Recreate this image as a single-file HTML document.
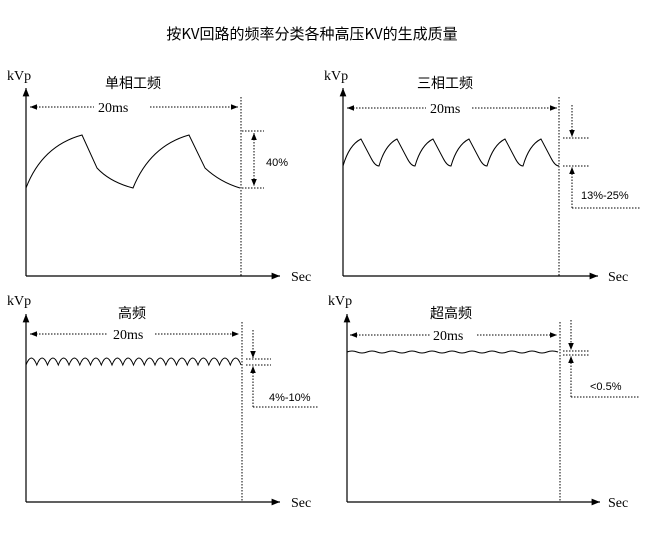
<!DOCTYPE html>
<html><head><meta charset="utf-8"><style>
html,body{margin:0;padding:0;background:#fff;}
svg{display:block;}
.s{font-family:"Liberation Serif",serif;font-size:14px;fill:#000;}
.c{font-family:"Liberation Sans","Noto Sans CJK SC",sans-serif;font-size:14px;fill:#000;}
.p{font-family:"Liberation Sans",sans-serif;font-size:11px;fill:#000;}
</style></head><body>
<svg id="g" width="655" height="542" viewBox="0 0 655 542" xmlns="http://www.w3.org/2000/svg">
<defs>
<marker id="a" viewBox="0 0 10 10" refX="10" refY="5" markerWidth="7" markerHeight="7" orient="auto-start-reverse"><path d="M0,1 L10,5 L0,9 z" fill="#000"/></marker>
</defs>
<text x="312" y="39" text-anchor="middle" style="font-family:'Noto Sans CJK SC',sans-serif;font-size:15px">按KV回路的频率分类各种高压KV的生成质量</text>
<g stroke="#000" fill="none" stroke-width="1.2">
<!-- panel1 -->
<line x1="26" y1="276" x2="26" y2="88" marker-end="url(#a)"/>
<line x1="26" y1="276" x2="280" y2="276" marker-end="url(#a)"/>
<!-- panel2 -->
<line x1="343" y1="276" x2="343" y2="88" marker-end="url(#a)"/>
<line x1="343" y1="276" x2="598" y2="276" marker-end="url(#a)"/>
<!-- panel3 -->
<line x1="26" y1="502" x2="26" y2="314" marker-end="url(#a)"/>
<line x1="26" y1="502" x2="280" y2="502" marker-end="url(#a)"/>
<!-- panel4 -->
<line x1="347" y1="502" x2="347" y2="314" marker-end="url(#a)"/>
<line x1="347" y1="502" x2="600" y2="502" marker-end="url(#a)"/>
<path stroke-width="1" d="M26,188 Q42,146 82,135 L97,168 Q110,182 133,188 Q150,146 189,135 L205,168 Q220,182 240,188"/>
<path id="w2" stroke-width="1"/>
<path id="w3" stroke-width="1"/>
<path stroke-width="1" d="M347,352 Q352,350 357,352 T367,352 T377,352 T387,352 T397,352 T407,352 T417,352 T427,352 T437,352 T447,352 T457,352 T467,352 T477,352 T487,352 T497,352 T507,352 T517,352 T527,352 T537,352 T547,352 T558,352"/>
</g>
<g stroke="#000" fill="none" stroke-width="1" stroke-dasharray="1.5,1.5">
<line x1="30" y1="107" x2="94" y2="107" marker-start="url(#a)"/><line x1="150" y1="107" x2="238" y2="107" marker-end="url(#a)"/>
<line x1="241" y1="97" x2="241" y2="276"/>
<line x1="242" y1="131" x2="264" y2="131"/><line x1="242" y1="188" x2="264" y2="188"/>
<line x1="254" y1="133" x2="254" y2="186" marker-start="url(#a)" marker-end="url(#a)"/>

<line x1="347" y1="108" x2="426" y2="108" marker-start="url(#a)"/><line x1="472" y1="108" x2="557" y2="108" marker-end="url(#a)"/>
<line x1="559" y1="97" x2="559" y2="276"/>
<line x1="563" y1="138" x2="590" y2="138"/><line x1="563" y1="166" x2="590" y2="166"/>
<line x1="572" y1="105" x2="572" y2="137" marker-end="url(#a)"/>
<line x1="572" y1="208" x2="572" y2="167" marker-end="url(#a)"/>
<line x1="572" y1="208" x2="640" y2="208"/>

<line x1="30" y1="334" x2="108" y2="334" marker-start="url(#a)"/><line x1="155" y1="334" x2="239" y2="334" marker-end="url(#a)"/>
<line x1="242" y1="322" x2="242" y2="502"/>
<line x1="246" y1="359" x2="271" y2="359"/><line x1="246" y1="365" x2="271" y2="365"/>
<line x1="253" y1="330" x2="253" y2="358" marker-end="url(#a)"/>
<line x1="253" y1="407" x2="253" y2="366" marker-end="url(#a)"/>
<line x1="253" y1="407" x2="318" y2="407"/>

<line x1="350" y1="335" x2="430" y2="335" marker-start="url(#a)"/><line x1="477" y1="335" x2="557" y2="335" marker-end="url(#a)"/>
<line x1="560" y1="322" x2="560" y2="502"/>
<line x1="563" y1="351" x2="590" y2="351"/><line x1="563" y1="355" x2="590" y2="355"/>
<line x1="571" y1="320" x2="571" y2="350" marker-end="url(#a)"/>
<line x1="571" y1="397" x2="571" y2="356" marker-end="url(#a)"/>
<line x1="571" y1="397" x2="640" y2="397"/>
</g>
<text class="s" x="7" y="80">kVp</text><text class="s" x="324" y="80">kVp</text>
<text class="s" x="7" y="305">kVp</text><text class="s" x="328" y="305">kVp</text>
<text class="s" x="291" y="281">Sec</text><text class="s" x="608" y="281">Sec</text>
<text class="s" x="291" y="507">Sec</text><text class="s" x="608" y="507">Sec</text>
<text class="c" x="105" y="88">单相工频</text><text class="c" x="417" y="88">三相工频</text>
<text class="c" x="118" y="318">高频</text><text class="c" x="430" y="318">超高频</text>
<text class="s" x="98" y="112">20ms</text><text class="s" x="430" y="113">20ms</text>
<text class="s" x="113" y="339">20ms</text><text class="s" x="433" y="340">20ms</text>
<text class="p" x="266" y="166">40%</text>
<text class="p" x="581" y="199">13%-25%</text>
<text class="p" x="269" y="401">4%-10%</text>
<text class="p" x="590" y="390">&lt;0.5%</text>
</svg>
<script>
var d="M343,166";for(var i=0;i<6;i++){var x=343+i*36;d+=" Q"+(x+6)+",145 "+(x+18)+",139 L"+(x+28)+",158 Q"+(x+32)+",166 "+(x+36)+",166";}
document.getElementById("w2").setAttribute("d",d);
var e="M26,365",p=(241-26)/20;for(var j=0;j<20;j++){var a=26+j*p;e+=" Q"+(a+p/2).toFixed(1)+",351 "+(a+p).toFixed(1)+",365";}
document.getElementById("w3").setAttribute("d",e);
</script>
</body></html>
